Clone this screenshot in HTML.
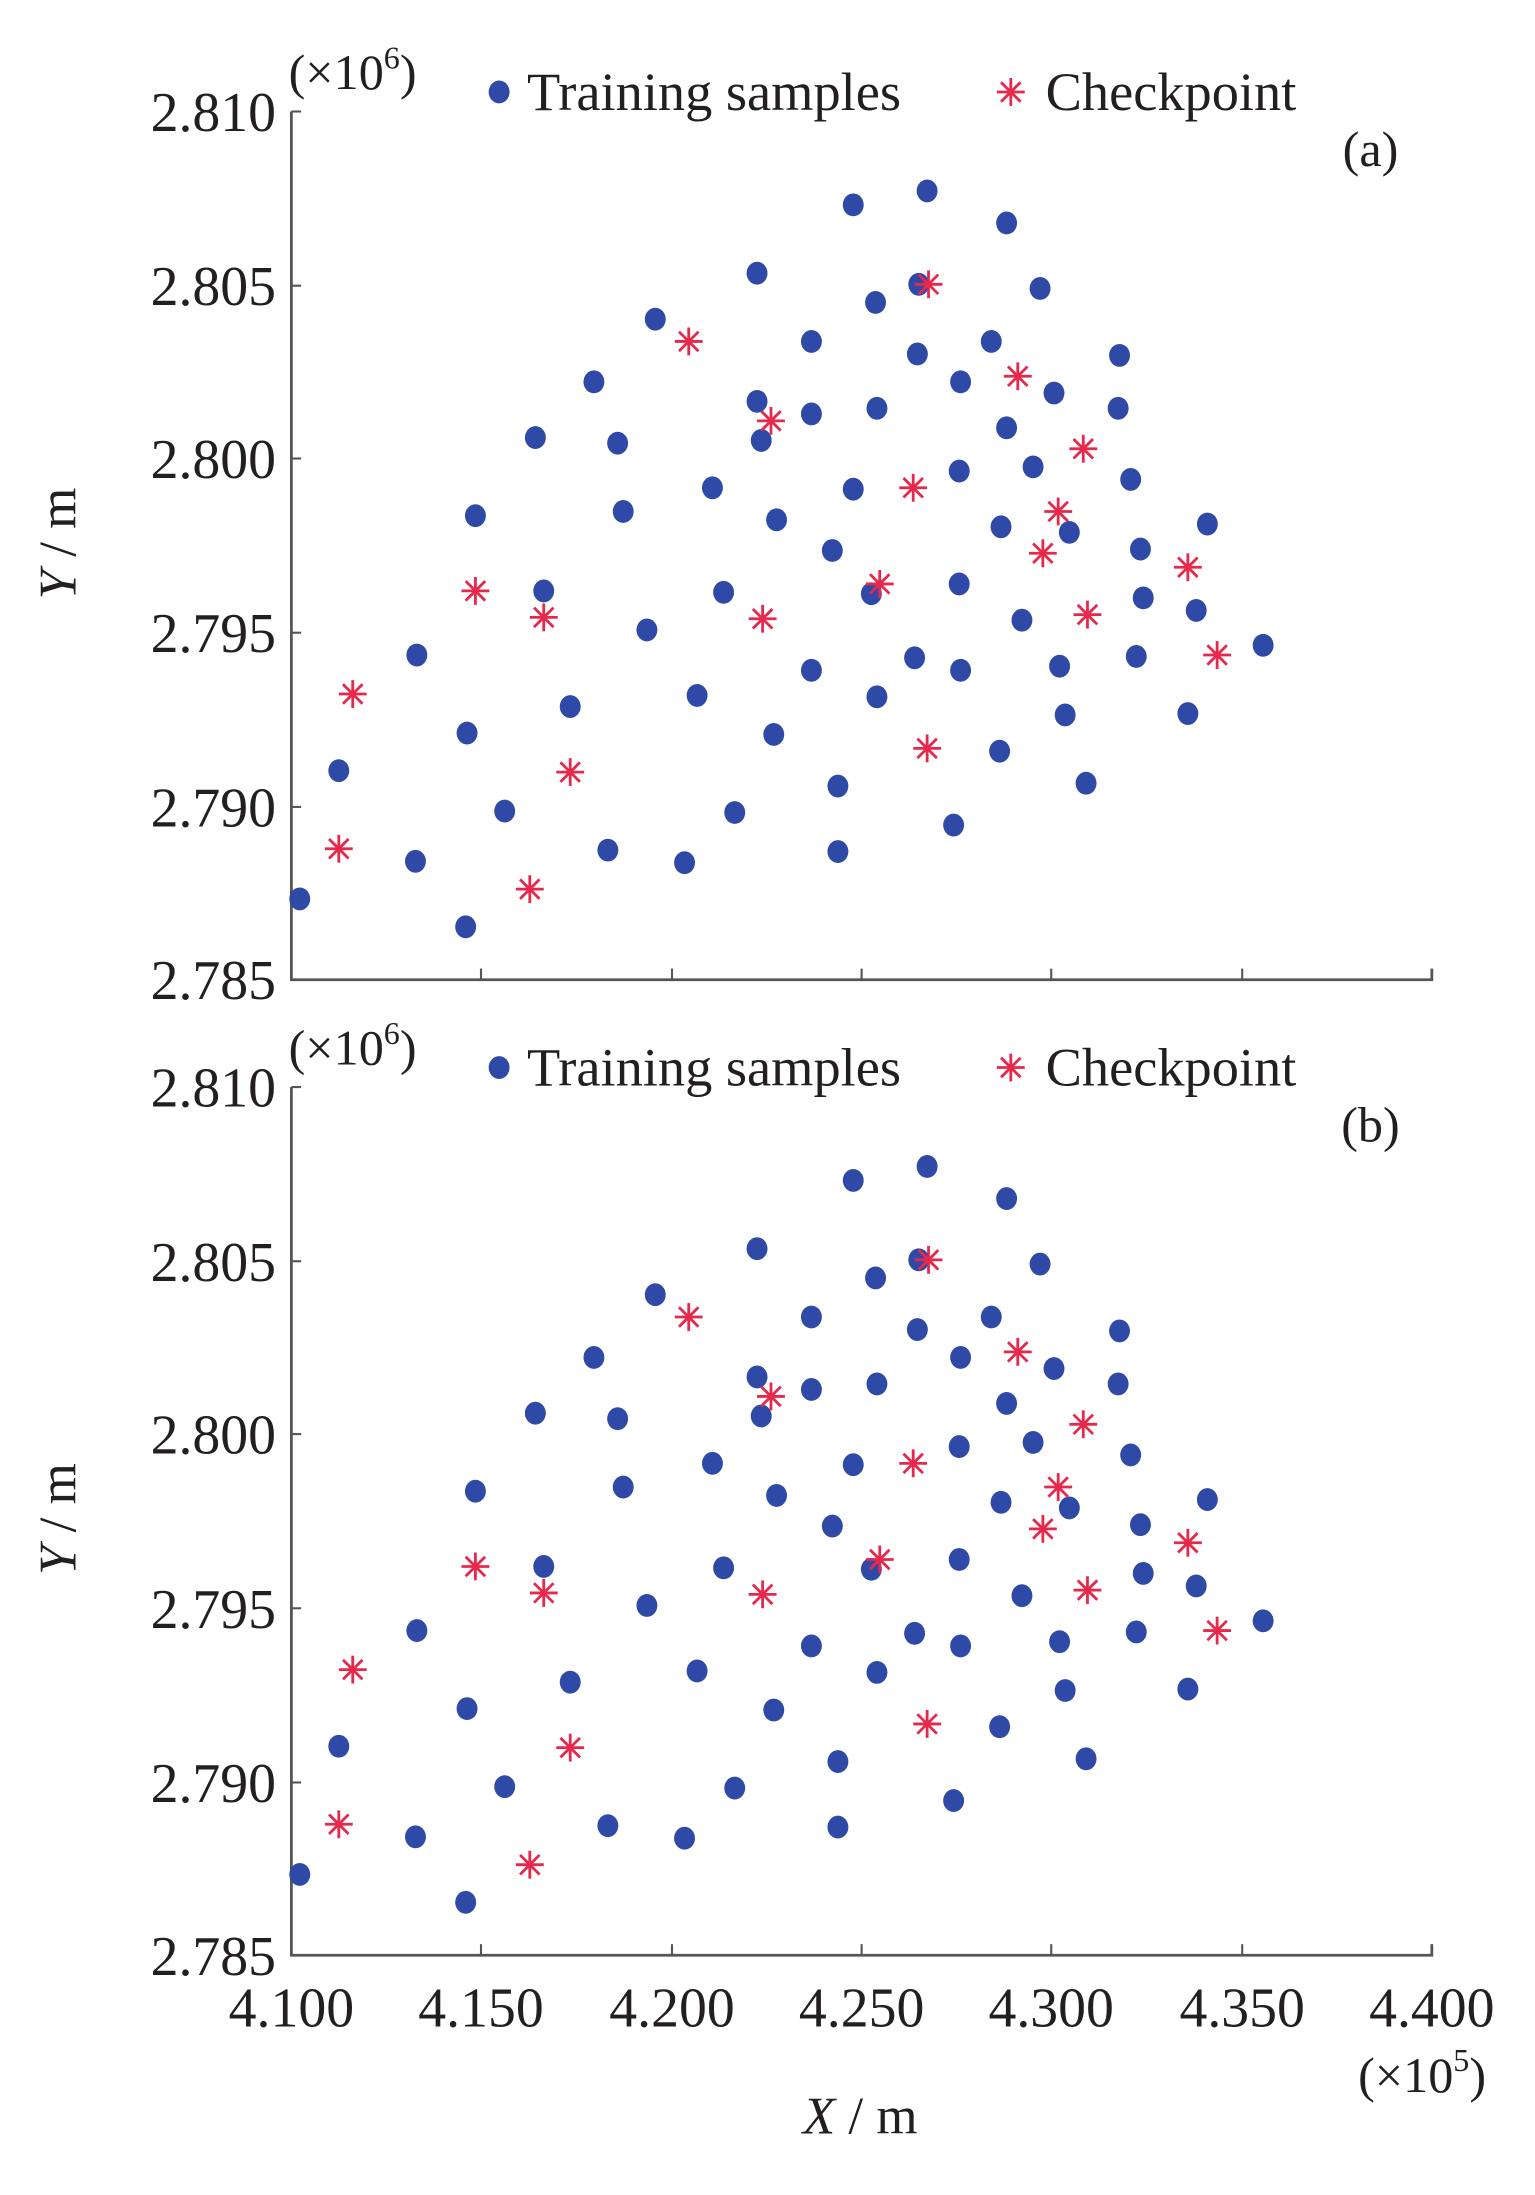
<!DOCTYPE html>
<html><head><meta charset="utf-8"><style>
html,body{margin:0;padding:0;background:#fff;}
svg{display:block;}
text{font-family:"Liberation Serif",serif;fill:#231f20;}
</style></head><body>
<svg width="1535" height="2195" viewBox="0 0 1101 1575" preserveAspectRatio="none" xmlns="http://www.w3.org/2000/svg">
<defs>
<g id="dot"><ellipse cx="0" cy="0" rx="7.5" ry="8.2" fill="#2e4aa6"/></g>
<g id="star" stroke="#e8284a" stroke-width="2" fill="none">
<line x1="-10" y1="0" x2="10" y2="0"/><line x1="0" y1="-10" x2="0" y2="10"/>
<line x1="-7" y1="-7" x2="7" y2="7"/><line x1="-7" y1="7" x2="7" y2="-7"/></g>
<g id="panel">
<path d="M209 80 V703 H1027 V695" stroke="#555" stroke-width="2" fill="none"/>
<g stroke="#555" stroke-width="1.5">
<line x1="345" y1="703" x2="345" y2="695"/><line x1="482" y1="703" x2="482" y2="695"/>
<line x1="618" y1="703" x2="618" y2="695"/><line x1="754" y1="703" x2="754" y2="695"/>
<line x1="891" y1="703" x2="891" y2="695"/>
<line x1="209" y1="80" x2="216" y2="80"/><line x1="209" y1="205" x2="216" y2="205"/>
<line x1="209" y1="329" x2="216" y2="329"/><line x1="209" y1="454" x2="216" y2="454"/>
<line x1="209" y1="579" x2="216" y2="579"/>
</g>
<g font-size="40" text-anchor="end">
<text x="198" y="94">2.810</text><text x="198" y="219">2.805</text>
<text x="198" y="343">2.800</text><text x="198" y="468">2.795</text>
<text x="198" y="593">2.790</text><text x="198" y="717">2.785</text>
</g>
<text x="207" y="64" font-size="36">(×10<tspan font-size="23" dy="-15">6</tspan><tspan dy="15">)</tspan></text>
<use href="#dot" x="358" y="66"/>
<text x="378" y="79" font-size="39">Training samples</text>
<use href="#star" x="725" y="66"/>
<text x="750" y="79" font-size="39">Checkpoint</text>
<text x="54" y="390" font-size="38" text-anchor="middle" transform="rotate(-90 54 390)"><tspan font-style="italic">Y</tspan> / m</text>
<g>
<use href="#dot" x="215" y="645"/><use href="#dot" x="243" y="553"/><use href="#dot" x="299" y="470"/><use href="#dot" x="298" y="618"/>
<use href="#dot" x="335" y="526"/><use href="#dot" x="334" y="665"/><use href="#dot" x="341" y="370"/><use href="#dot" x="362" y="582"/>
<use href="#dot" x="384" y="314"/><use href="#dot" x="390" y="424"/><use href="#dot" x="409" y="507"/><use href="#dot" x="426" y="274"/>
<use href="#dot" x="436" y="610"/><use href="#dot" x="443" y="318"/><use href="#dot" x="447" y="367"/><use href="#dot" x="464" y="452"/>
<use href="#dot" x="470" y="229"/><use href="#dot" x="491" y="619"/><use href="#dot" x="500" y="499"/><use href="#dot" x="511" y="350"/>
<use href="#dot" x="519" y="425"/><use href="#dot" x="527" y="583"/><use href="#dot" x="543" y="196"/><use href="#dot" x="543" y="288"/>
<use href="#dot" x="546" y="316"/><use href="#dot" x="555" y="527"/><use href="#dot" x="557" y="373"/><use href="#dot" x="582" y="245"/>
<use href="#dot" x="582" y="297"/><use href="#dot" x="582" y="481"/><use href="#dot" x="597" y="395"/><use href="#dot" x="601" y="564"/>
<use href="#dot" x="601" y="611"/><use href="#dot" x="612" y="147"/><use href="#dot" x="612" y="351"/><use href="#dot" x="625" y="426"/>
<use href="#dot" x="628" y="217"/><use href="#dot" x="629" y="293"/><use href="#dot" x="629" y="500"/><use href="#dot" x="656" y="472"/>
<use href="#dot" x="658" y="254"/><use href="#dot" x="659" y="204"/><use href="#dot" x="665" y="137"/><use href="#dot" x="684" y="592"/>
<use href="#dot" x="688" y="338"/><use href="#dot" x="688" y="419"/><use href="#dot" x="689" y="274"/><use href="#dot" x="689" y="481"/>
<use href="#dot" x="711" y="245"/><use href="#dot" x="717" y="539"/><use href="#dot" x="722" y="160"/><use href="#dot" x="722" y="307"/>
<use href="#dot" x="733" y="445"/><use href="#dot" x="741" y="335"/><use href="#dot" x="746" y="207"/><use href="#dot" x="718" y="378"/>
<use href="#dot" x="756" y="282"/><use href="#dot" x="760" y="478"/><use href="#dot" x="764" y="513"/><use href="#dot" x="767" y="382"/>
<use href="#dot" x="779" y="562"/><use href="#dot" x="803" y="255"/><use href="#dot" x="802" y="293"/><use href="#dot" x="811" y="344"/>
<use href="#dot" x="818" y="394"/><use href="#dot" x="820" y="429"/><use href="#dot" x="815" y="471"/><use href="#dot" x="852" y="512"/>
<use href="#dot" x="858" y="438"/><use href="#dot" x="866" y="376"/><use href="#dot" x="906" y="463"/>
</g>
<g>
<use href="#star" x="253" y="498"/><use href="#star" x="243" y="609"/><use href="#star" x="341" y="424"/><use href="#star" x="380" y="638"/>
<use href="#star" x="390" y="443"/><use href="#star" x="409" y="554"/><use href="#star" x="494" y="245"/><use href="#star" x="547" y="444"/>
<use href="#star" x="553" y="302"/><use href="#star" x="631" y="419"/><use href="#star" x="655" y="350"/><use href="#star" x="665" y="537"/>
<use href="#star" x="666" y="204"/><use href="#star" x="730" y="270"/><use href="#star" x="748" y="397"/><use href="#star" x="759" y="367"/>
<use href="#star" x="777" y="322"/><use href="#star" x="780" y="441"/><use href="#star" x="852" y="407"/><use href="#star" x="873" y="470"/>
</g>
</g>
</defs>
<use href="#panel" x="0" y="0"/>
<use href="#panel" x="0" y="700"/>
<text x="983" y="119" font-size="36" text-anchor="middle">(a)</text>
<text x="983" y="819" font-size="36" text-anchor="middle">(b)</text>
<g font-size="40" text-anchor="middle">
<text x="209" y="1454">4.100</text><text x="345" y="1454">4.150</text><text x="482" y="1454">4.200</text>
<text x="618" y="1454">4.250</text><text x="754" y="1454">4.300</text><text x="891" y="1454">4.350</text>
<text x="1027" y="1454">4.400</text>
</g>
<text x="1020" y="1501" font-size="36" text-anchor="middle">(×10<tspan font-size="23" dy="-15">5</tspan><tspan dy="15">)</tspan></text>
<text x="617" y="1531" font-size="38" text-anchor="middle"><tspan font-style="italic">X</tspan> / m</text>
</svg>
</body></html>
